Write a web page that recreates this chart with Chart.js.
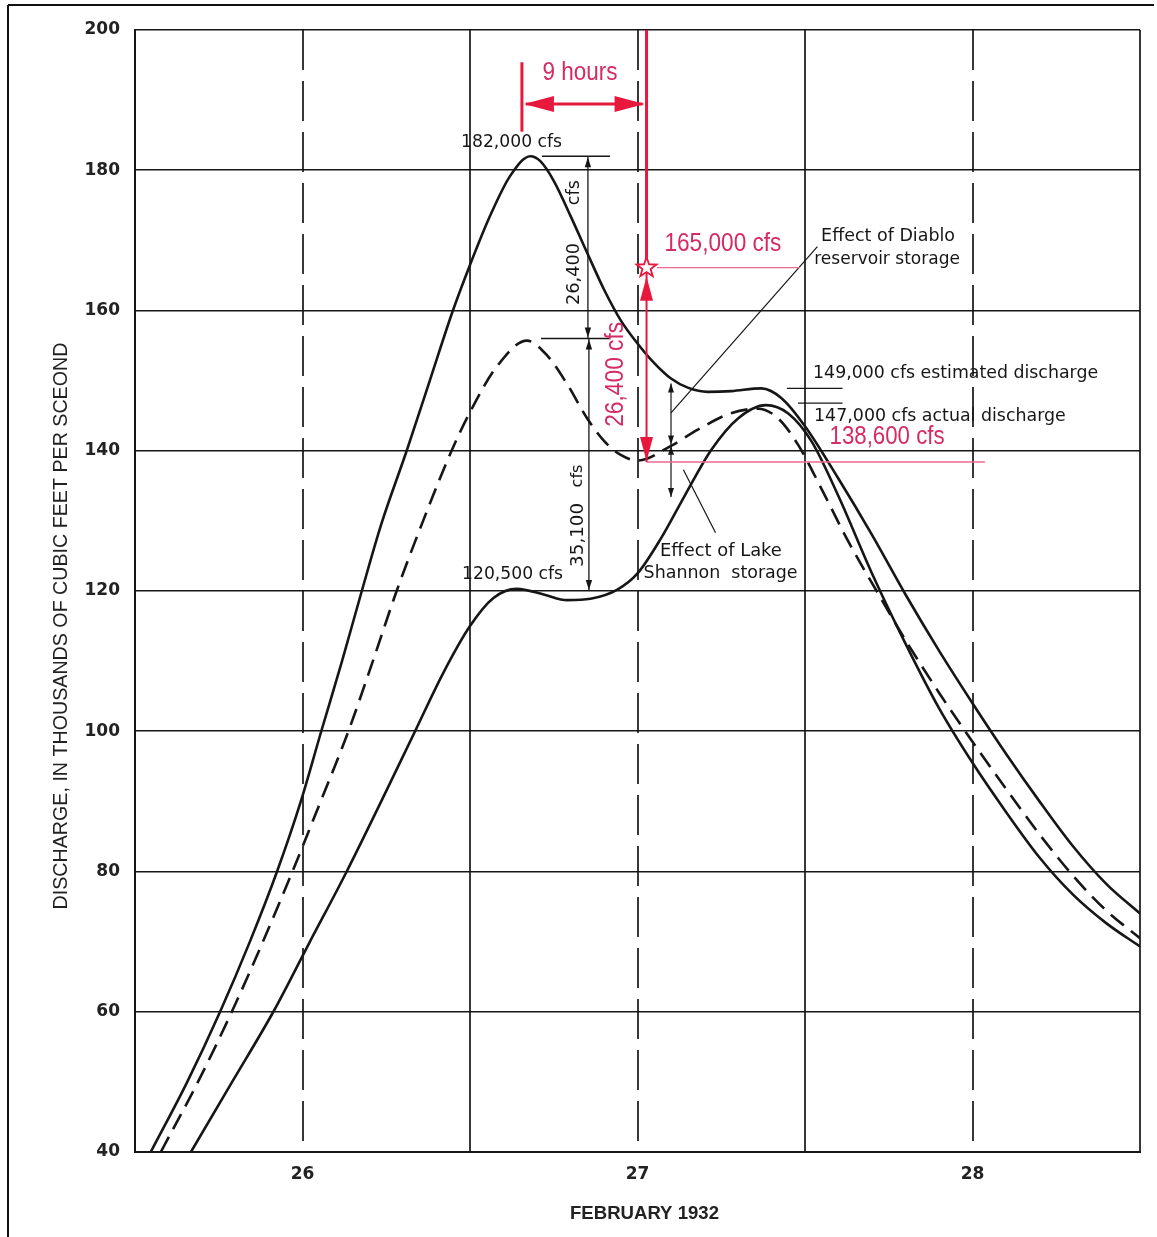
<!DOCTYPE html>
<html>
<head>
<meta charset="utf-8">
<script src="https://cdn.jsdelivr.net/npm/chart.js@4.4.1/dist/chart.umd.min.js"></script>
<style>
  html, body { margin: 0; padding: 0; background: #ffffff; }
  #wrap { position: absolute; left: 0; top: 0; width: 1157px; height: 1237px; }
</style>
</head>
<body>
<div id="wrap"><canvas id="c" width="1157" height="1237"></canvas></div>
<script>
// ---------------- DATA ----------------
const dayTickLabels = [26, 27, 28];
const flowTicks = [40, 60, 80, 100, 120, 140, 160, 180, 200];

// Estimated natural discharge (upper solid curve), thousands of cfs
const naturalDays = [25.547, 25.656, 25.754, 25.843, 25.924, 25.995, 26.056, 26.118, 26.177, 26.235, 26.311, 26.38, 26.449, 26.5, 26.56, 26.62, 26.68, 26.71, 26.75, 26.8, 26.85, 26.9, 26.95, 27.0, 27.05, 27.1, 27.15, 27.21, 27.28, 27.37, 27.43, 27.5, 27.6, 27.7, 27.8, 27.9, 28.0, 28.1, 28.2, 28.3, 28.4, 28.5];
const naturalFlow = [40, 50, 60, 70, 80, 90, 100, 110, 120, 129.5, 140, 150, 160, 166.5, 173.5, 179.2, 182, 181.3, 178.5, 173.5, 168.2, 163, 158.6, 155.3, 152.5, 150.3, 149.0, 148.4, 148.5, 148.9, 147.5, 143.5, 136, 128, 119.5, 111.5, 104, 96.8, 90, 83.6, 78.2, 74];

// Discharge with Diablo reservoir storage (dashed curve)
const diabloDays = [25.577, 25.688, 25.789, 25.882, 25.97, 26.05, 26.137, 26.21, 26.281, 26.36, 26.445, 26.5, 26.58, 26.67, 26.73, 26.79, 26.85, 26.9, 26.95, 27.0, 27.1, 27.18, 27.276, 27.36, 27.42, 27.48, 27.55, 27.63, 27.72, 27.8, 27.9, 28.0, 28.1, 28.2, 28.3, 28.4, 28.5];
const diabloFlow = [40, 50, 60, 70, 80, 89.5, 100, 110, 120, 130, 140, 145.5, 152, 155.7, 153.6, 149.5, 144.6, 141.4, 139.4, 138.6, 140.7, 143.0, 145.3, 146.0, 144.6, 140.8, 134.5, 127, 119.5, 113, 105.5, 98.5, 91.8, 85.3, 79.4, 74.4, 70.5];

// Actual discharge with Lake Shannon storage (lower solid curve)
const actualDays = [25.667, 25.79, 25.913, 26.02, 26.132, 26.235, 26.336, 26.42, 26.5, 26.57, 26.64, 26.72, 26.79, 26.86, 26.94, 27.0, 27.07, 27.14, 27.22, 27.3, 27.383, 27.45, 27.52, 27.6, 27.7, 27.8, 27.9, 28.0, 28.1, 28.2, 28.3, 28.4, 28.5];
const actualFlow = [40, 50, 60, 69.8, 80, 90, 100, 108.3, 115, 119, 120.3, 119.5, 118.7, 118.9, 120.2, 122.5, 127.5, 133.5, 140.1, 144.6, 146.5, 145.3, 141.3, 133.5, 122.5, 112.5, 103.3, 95.5, 88.5, 82, 76.7, 72.6, 69.3];

// Annotation values (data units)
const peakNatural = { day: 26.68, flow: 182 };
const peakDiablo = { day: 26.67, flow: 156 };
const plateauActual = 120;
const redDay = 27.027;          // vertical red marker
const redStartDay = 26.655;     // start of the 9-hour span
const starFlow = 166.1;         // 165,000 cfs star
const minDiablo = 138.4;        // 138,600 cfs level
const estTick = 148.9;
const actTick = 146.8;

// ---------------- HELPERS ----------------
const toXY = (xs, ys) => xs.map((x, i) => ({ x: x, y: ys[i] }));

function fitFont(ctx, text, family, weight, targetW) {
  const ref = 20;
  ctx.font = weight + ' ' + ref + 'px ' + family;
  const w = ctx.measureText(text).width;
  const size = ref * targetW / w;
  return weight + ' ' + size.toFixed(2) + 'px ' + family;
}

function head(ctx, x, y, ang, len, hw, color) {
  ctx.save();
  ctx.fillStyle = color;
  ctx.beginPath();
  ctx.moveTo(x, y);
  const bx = x - len * Math.cos(ang), by = y - len * Math.sin(ang);
  ctx.lineTo(bx + hw * Math.sin(ang), by - hw * Math.cos(ang));
  ctx.lineTo(bx - hw * Math.sin(ang), by + hw * Math.cos(ang));
  ctx.closePath();
  ctx.fill();
  ctx.restore();
}

function line(ctx, x1, y1, x2, y2, color, w, dash) {
  ctx.save();
  ctx.strokeStyle = color;
  ctx.lineWidth = w;
  ctx.setLineDash(dash || []);
  ctx.beginPath();
  ctx.moveTo(x1, y1);
  ctx.lineTo(x2, y2);
  ctx.stroke();
  ctx.restore();
}

function text(ctx, str, x, y, font, color, align, rot) {
  ctx.save();
  ctx.font = font;
  ctx.fillStyle = color;
  ctx.textAlign = align || 'center';
  ctx.textBaseline = 'middle';
  ctx.translate(x, y);
  if (rot) ctx.rotate(rot);
  ctx.fillText(str, 0, 0);
  ctx.restore();
}

// condensed text: fixed font size, squeezed horizontally to a target width
function squeezed(ctx, str, x, y, size, family, targetW, color, rot, weight) {
  ctx.save();
  ctx.font = (weight || 'normal') + ' ' + size + 'px ' + family;
  const w = ctx.measureText(str).width;
  ctx.fillStyle = color;
  ctx.textAlign = 'center';
  ctx.textBaseline = 'middle';
  ctx.translate(x, y);
  if (rot) ctx.rotate(rot);
  ctx.scale(targetW / w, 1);
  ctx.fillText(str, 0, 0);
  ctx.restore();
}

function star(ctx, cx, cy, R, r, stroke) {
  ctx.save();
  ctx.beginPath();
  for (let i = 0; i < 10; i++) {
    const rad = i % 2 === 0 ? R : r;
    const a = -Math.PI / 2 + i * Math.PI / 5;
    const px = cx + rad * Math.cos(a), py = cy + rad * Math.sin(a);
    if (i === 0) ctx.moveTo(px, py); else ctx.lineTo(px, py);
  }
  ctx.closePath();
  ctx.fillStyle = '#ffffff';
  ctx.fill();
  ctx.strokeStyle = stroke;
  ctx.lineWidth = 1.8;
  ctx.stroke();
  ctx.restore();
}

const INK = '#161616';
const RED = '#e8173c';
const RED_TXT = '#d52a63';
const PINK = '#ec6a8e';
const BLACKFONT = '"DejaVu Sans"';
const REDFONT = '"Liberation Sans", Arial';

// vertical grid lines: dashed at whole days, solid at half days
const vGrid = {
  id: 'vGrid',
  beforeDatasetsDraw(chart) {
    const ctx = chart.ctx, xs = chart.scales.x, a = chart.chartArea;
    xs.ticks.map(t => t.value).forEach(v => {
      const px = Math.round(xs.getPixelForValue(v));
      const whole = Math.abs(v - Math.round(v)) < 1e-6 && v > xs.min && v < xs.max;
      line(ctx, px, a.top, px, a.bottom, INK, 1.7, whole ? [40, 11] : []);
    });
  }
};

const annot = {
  id: 'annot',
  afterDatasetsDraw(chart) {
    const ctx = chart.ctx, xs = chart.scales.x, ys = chart.scales.y;
    const X = d => xs.getPixelForValue(d), Y = v => ys.getPixelForValue(v);

    // ---- black annotations ----
    line(ctx, X(26.715), Y(peakNatural.flow), X(26.918), Y(peakNatural.flow), INK, 1.4);
    line(ctx, X(26.712), Y(peakDiablo.flow), X(26.918), Y(peakDiablo.flow), INK, 1.4);
    const dx1 = X(26.852);
    line(ctx, dx1, Y(peakNatural.flow), dx1, Y(peakDiablo.flow), INK, 1.3);
    head(ctx, dx1, Y(peakNatural.flow) + 1, -Math.PI / 2, 10, 3.2, INK);
    head(ctx, dx1, Y(peakDiablo.flow) - 1, Math.PI / 2, 10, 3.2, INK);
    line(ctx, dx1 + 1, Y(peakDiablo.flow), dx1 + 1, Y(plateauActual), INK, 1.3);
    head(ctx, dx1 + 1, Y(peakDiablo.flow) + 1, -Math.PI / 2, 10, 3.2, INK);
    head(ctx, dx1 + 1, Y(plateauActual) - 1, Math.PI / 2, 10, 3.2, INK);

    text(ctx, '182,000 cfs', X(26.624), Y(183.9), fitFont(ctx, '182,000 cfs', BLACKFONT, 'normal', 101), INK);
    text(ctx, '120,500 cfs', X(26.627), Y(122.3), fitFont(ctx, '120,500 cfs', BLACKFONT, 'normal', 101), INK);
    text(ctx, '26,400', X(26.813), Y(165.2), fitFont(ctx, '26,400', BLACKFONT, 'normal', 62), INK, 'center', -Math.PI / 2);
    text(ctx, 'cfs', X(26.813), Y(176.8), fitFont(ctx, 'cfs', BLACKFONT, 'normal', 25), INK, 'center', -Math.PI / 2);
    text(ctx, '35,100', X(26.822), Y(128.0), fitFont(ctx, '35,100', BLACKFONT, 'normal', 64), INK, 'center', -Math.PI / 2);
    text(ctx, 'cfs', X(26.822), Y(136.4), fitFont(ctx, 'cfs', BLACKFONT, 'normal', 23), INK, 'center', -Math.PI / 2);

    // effect double arrows at day 27.1
    const ex = X(27.1);
    line(ctx, ex, Y(149.6), ex, Y(133.4), INK, 1.2);
    head(ctx, ex, Y(149.6), -Math.PI / 2, 9, 3, INK);
    head(ctx, ex, Y(140.9), Math.PI / 2, 9, 3, INK);
    head(ctx, ex, Y(140.7), -Math.PI / 2, 9, 3, INK);
    head(ctx, ex, Y(133.4), Math.PI / 2, 9, 3, INK);
    // leaders
    line(ctx, X(27.1), Y(145.4), X(27.537), Y(169.1), INK, 1.2);
    line(ctx, X(27.137), Y(137.3), X(27.233), Y(128.3), INK, 1.2);

    text(ctx, 'Effect of Diablo', X(27.748), Y(170.5), fitFont(ctx, 'Effect of Diablo', BLACKFONT, 'normal', 134), INK);
    text(ctx, 'reservoir storage', X(27.745), Y(167.2), fitFont(ctx, 'reservoir storage', BLACKFONT, 'normal', 146), INK);
    text(ctx, 'Effect of Lake', X(27.249), Y(125.6), fitFont(ctx, 'Effect of Lake', BLACKFONT, 'normal', 122), INK);
    text(ctx, 'Shannon  storage', X(27.248), Y(122.5), fitFont(ctx, 'Shannon  storage', BLACKFONT, 'normal', 154), INK);

    line(ctx, X(27.446), Y(estTick), X(27.612), Y(estTick), INK, 1.3);
    line(ctx, X(27.479), Y(actTick), X(27.612), Y(actTick), INK, 1.3);
    text(ctx, '149,000 cfs estimated discharge', X(27.524), Y(151.0), fitFont(ctx, '149,000 cfs estimated discharge', BLACKFONT, 'normal', 285), INK, 'left');
    text(ctx, '147,000 cfs actual discharge', X(27.527), Y(144.9), fitFont(ctx, '147,000 cfs actual discharge', BLACKFONT, 'normal', 252), INK, 'left');

    // ---- red annotations ----
    const rx = X(redDay);
    const sx = X(redStartDay);
    line(ctx, rx, ys.top, rx, Y(starFlow), RED, 3);
    line(ctx, sx, Y(195.4), sx, Y(185.5), RED, 3);
    const hy = Y(189.45);
    line(ctx, sx + 4, hy, rx - 4, hy, RED, 3);
    head(ctx, sx + 2, hy, Math.PI, 30, 8, RED);
    head(ctx, rx - 2, hy, 0, 30, 8, RED);
    squeezed(ctx, '9 hours', X(26.828), Y(193.9), 25, REDFONT, 75, RED_TXT);

    line(ctx, X(27.058), Y(starFlow), X(27.485), Y(starFlow), PINK, 1.3);
    line(ctx, rx, Y(minDiablo), X(28.037), Y(minDiablo), PINK, 1.6);

    line(ctx, rx, Y(starFlow), rx, Y(minDiablo), RED, 2);
    head(ctx, rx, Y(starFlow) + 9, -Math.PI / 2, 24, 6.5, RED);
    head(ctx, rx, Y(minDiablo) - 1, Math.PI / 2, 24, 6.5, RED);
    star(ctx, rx, Y(starFlow), 10.5, 4.3, RED);

    squeezed(ctx, '165,000 cfs', X(27.255), Y(169.5), 25, REDFONT, 117, RED_TXT);
    squeezed(ctx, '26,400 cfs', X(26.936), Y(150.9), 25, REDFONT, 105, RED_TXT, -Math.PI / 2);
    squeezed(ctx, '138,600 cfs', X(27.745), Y(141.9), 25, REDFONT, 115, RED_TXT);
  },
  afterDraw(chart) {
    const ctx = chart.ctx, a = chart.chartArea;
    const yt = 'DISCHARGE, IN THOUSANDS OF CUBIC FEET PER SCEOND';
    text(ctx, yt, 62, (a.top + a.bottom) / 2 + 35, fitFont(ctx, yt, '"Liberation Sans", Arial', 'normal', 567), '#222', 'center', -Math.PI / 2);
    squeezed(ctx, 'FEBRUARY 1932', (a.left + a.right) / 2 + 7, 1214, 18, '"Liberation Sans", Arial', 149, '#222', 0, 'bold');
    line(ctx, 8, 5, 1154, 5, '#111', 2);
    line(ctx, 8, 5, 8, 1237, '#111', 2);
  }
};

// ---------------- CHART ----------------
const ctx = document.getElementById('c').getContext('2d');
new Chart(ctx, {
  type: 'line',
  data: {
    datasets: [
      { label: 'Estimated natural discharge', data: toXY(naturalDays, naturalFlow), borderColor: INK, borderWidth: 2.6, pointRadius: 0, cubicInterpolationMode: 'monotone', fill: false },
      { label: 'With Diablo storage', data: toXY(diabloDays, diabloFlow), borderColor: INK, borderWidth: 2.6, borderDash: [17, 9], pointRadius: 0, cubicInterpolationMode: 'monotone', fill: false },
      { label: 'Actual discharge', data: toXY(actualDays, actualFlow), borderColor: INK, borderWidth: 2.6, pointRadius: 0, cubicInterpolationMode: 'monotone', fill: false }
    ]
  },
  options: {
    responsive: false,
    animation: false,
    devicePixelRatio: 1,
    layout: { padding: { left: 0, right: 17, top: 30, bottom: 0 } },
    plugins: { legend: { display: false }, tooltip: { enabled: false }, title: { display: false } },
    scales: {
      x: {
        type: 'linear',
        min: 25.5, max: 28.5,
        afterFit: s => { s.height = 85; },
        afterBuildTicks: s => { s.ticks = [25.5, 26, 26.5, 27, 27.5, 28, 28.5].map(v => ({ value: v })); },
        ticks: {
          autoSkip: false, maxRotation: 0, padding: 12, color: '#222',
          font: { family: '"DejaVu Sans"', weight: 'bold', size: 17 },
          callback: v => dayTickLabels.includes(v) ? String(v) : ''
        },
        grid: { display: false, drawTicks: false },
        border: { display: true, color: INK, width: 2 }
      },
      y: {
        type: 'linear',
        min: 40, max: 200,
        afterFit: s => { s.width = 135; },
        afterBuildTicks: s => { s.ticks = flowTicks.map(v => ({ value: v })); },
        ticks: {
          padding: 15, color: '#222',
          font: { family: '"DejaVu Sans"', weight: 'bold', size: 17 }
        },
        grid: { color: INK, lineWidth: 1.6, drawTicks: false },
        border: { display: true, color: INK, width: 2 }
      }
    }
  },
  plugins: [vGrid, annot]
});
</script>
</body>
</html>
